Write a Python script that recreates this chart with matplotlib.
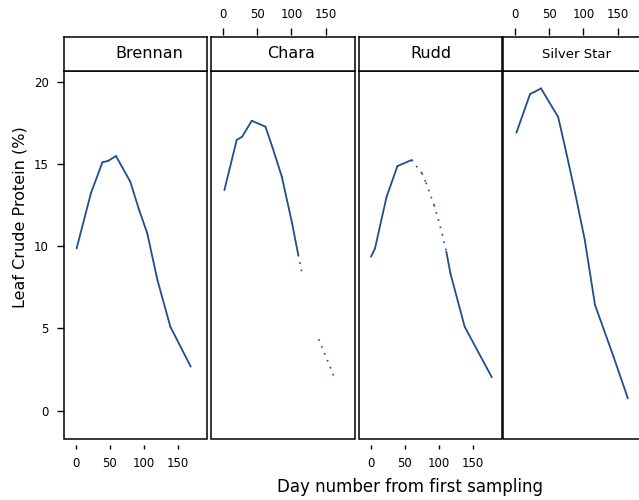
import matplotlib.pyplot as plt
from matplotlib.patches import Rectangle

# Datos: proteina cruda de la hoja (%) por variedad
variedades = ["Brennan", "Chara", "Rudd", "Silver Star"]

brennan_dia = [1, 22, 39, 47, 59, 80, 93, 105, 120, 139, 169]
brennan_pc = [9.88, 13.23, 15.12, 15.2, 15.5, 13.94, 12.22, 10.8, 7.95, 5.11, 2.68]
brennan_tramo = ["-"] * 10

chara_dia = [2, 20, 28, 42, 62, 72, 86, 101, 110, 116, 140, 164]
chara_pc = [13.43, 16.48, 16.68, 17.65, 17.29, 16.07, 14.24, 11.41, 9.48, 8.26, 4.35, 1.91]
chara_tramo = ["-"] * 8 + [":", "", ":"]

rudd_dia = [0, 6, 23, 39, 60, 75, 81, 93, 99, 105, 111, 117, 138, 178]
rudd_pc = [9.37, 9.88, 13.02, 14.89, 15.26, 14.45, 13.88, 12.52, 11.65, 10.75, 9.68, 8.36, 5.11, 2.03]
rudd_tramo = ["-"] * 4 + [":"] * 6 + ["-"] * 3

silver_dia = [2, 22, 29, 38, 54, 63, 73, 88, 102, 117, 144, 165]
silver_pc = [16.92, 19.28, 19.42, 19.62, 18.5, 17.89, 16.07, 13.23, 10.39, 6.43, 3.29, 0.75]
silver_tramo = ["-"] * 11

datos = [
    (brennan_dia, brennan_pc, brennan_tramo),
    (chara_dia, chara_pc, chara_tramo),
    (rudd_dia, rudd_pc, rudd_tramo),
    (silver_dia, silver_pc, silver_tramo),
]

x_ticks = [0, 50, 100, 150]
y_ticks = [0, 5, 10, 15, 20]

color = "#1f4e8f"
W, H = 639, 500

fig = plt.figure(figsize=(W / 100, H / 100), dpi=100)

# posiciones en pixeles de cada panel (izquierda, ancho)
paneles = [(64, 143), (211, 144), (359, 143), (503, 144)]
strip_pos = [0.60, 0.555, 0.50, 0.51]
strip_fs = [11.5, 11.5, 11.5, 9.5]
panel_top, panel_bot, strip_top = 71, 439, 37

for i, (x0, w) in enumerate(paneles):
    ax = fig.add_axes([x0 / W, (H - panel_bot) / H, w / W, (panel_bot - panel_top) / H])
    dia, pc, tramo = datos[i]
    for j, ls in enumerate(tramo):
        if ls == "":
            continue
        if ls == ":":
            ax.plot(dia[j:j + 2], pc[j:j + 2], color=color, lw=1.2,
                    linestyle=(0, (1, 3.5)), solid_capstyle="butt")
        else:
            ax.plot(dia[j:j + 2], pc[j:j + 2], color=color, lw=1.3,
                    solid_capstyle="round")

    ax.set_xlim(-17.6, 193)
    ax.set_ylim(-1.73, 20.68)
    for s in ax.spines.values():
        s.set_visible(False)
    ax.add_patch(Rectangle((0, 0), 1, 1, transform=ax.transAxes, fill=False,
                           lw=1.1, ec="black", clip_on=False, zorder=5))

    ax.set_xticks(x_ticks)
    ax.set_yticks(y_ticks)
    if i % 2 == 0:
        ax.spines["bottom"].set_position(("outward", 4.3))
        ax.tick_params(axis="x", bottom=True, top=False, labelbottom=True,
                       labeltop=False, length=3, width=1, pad=6, labelsize=8.5)
    else:
        ax.spines["top"].set_position(("outward", 26))
        ax.tick_params(axis="x", bottom=False, top=True, labelbottom=False,
                       labeltop=True, length=5, width=1, pad=5, labelsize=8.5)
    if i == 0:
        ax.tick_params(axis="y", left=True, labelleft=True, length=5, width=1,
                       pad=6, labelsize=8.5)
    else:
        ax.tick_params(axis="y", left=False, labelleft=False)

    # franja con el nombre de la variedad
    st = fig.add_axes([x0 / W, (H - panel_top) / H, w / W, (panel_top - strip_top) / H])
    st.set_xticks([])
    st.set_yticks([])
    for s in st.spines.values():
        s.set_linewidth(1.1)
    st.text(strip_pos[i], 0.5, variedades[i], ha="center", va="center",
            fontsize=strip_fs[i], transform=st.transAxes)

fig.text(20 / W, 0.566, "Leaf Crude Protein (%)", rotation=90, ha="center",
         va="center", fontsize=11.5)
fig.text(410 / W, 0.026, "Day number from first sampling", ha="center",
         va="center", fontsize=12)

plt.savefig("out.png", dpi=100)
